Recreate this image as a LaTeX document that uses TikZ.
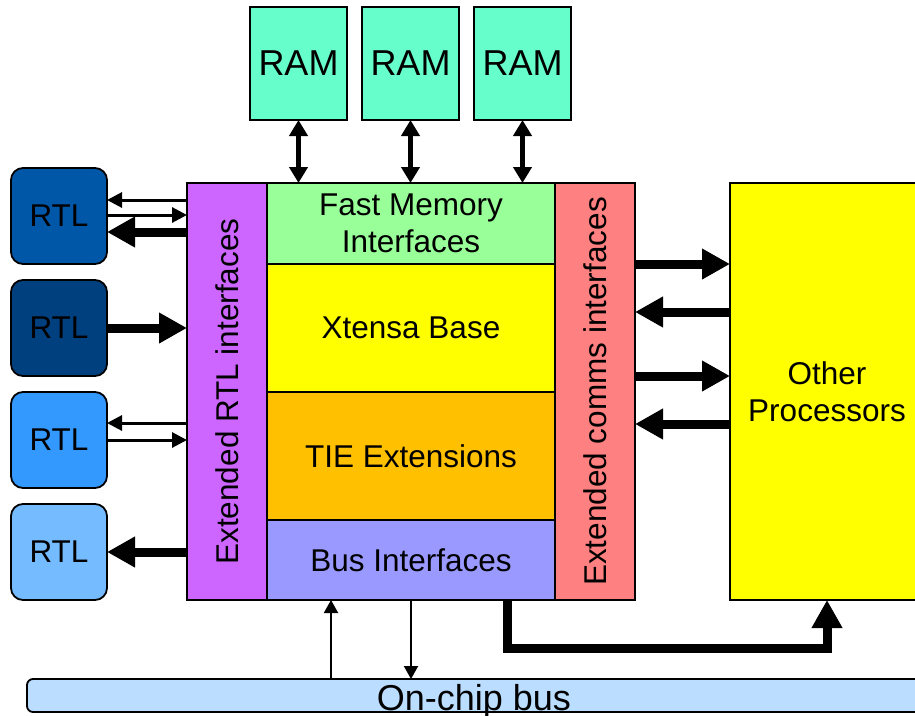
\documentclass[tikz,border=0pt]{standalone}
\usepackage{fontspec}
\setmainfont{Liberation Sans}
\usepackage{tikz}
\usetikzlibrary{arrows.meta}
\usetikzlibrary{positioning}

\definecolor{rtlA}{HTML}{0057A8}
\definecolor{rtlB}{HTML}{00407F}
\definecolor{rtlC}{HTML}{3399FF}
\definecolor{rtlD}{HTML}{75BBFF}
\definecolor{ramgreen}{HTML}{66FFCC}
\definecolor{extpurple}{HTML}{CC66FF}
\definecolor{memgreen}{HTML}{99FF99}
\definecolor{baseyellow}{HTML}{FFFF00}
\definecolor{tieorange}{HTML}{FFC000}
\definecolor{busblue}{HTML}{9999FF}
\definecolor{commsred}{HTML}{FF8080}
\definecolor{chipblue}{HTML}{BBDDFF}

\tikzset{
  blk/.style={draw=black, line width=1.8pt, inner sep=0pt, outer sep=0pt,
    align=center, font=\fontsize{31.5}{37}\selectfont},
  rtl/.style={blk, rounded corners=12pt, minimum width=96pt, minimum height=96pt},
  ram/.style={blk, fill=ramgreen, minimum width=97pt, minimum height=113pt,
    font=\fontsize{36}{40}\selectfont},
  thinarr/.style={line width=3pt, -{Triangle[length=15pt,width=15pt]}},
  fatarr/.style={line width=9pt, -{Triangle[length=28pt,width=29pt]}},
  ramarr/.style={line width=5pt, {Triangle[length=16pt,width=18pt]}-{Triangle[length=16pt,width=18pt]}},
  busarr/.style={line width=2pt, -{Triangle[length=13pt,width=14pt]}}
}

\begin{document}
\begin{tikzpicture}[x=1pt, y=-1pt]
\useasboundingbox (0,0) rectangle (915,715);

\node[rtl, fill=rtlA] (rtl1) at (59,216) {RTL};
\node[rtl, fill=rtlB] (rtl2) at (59,328) {RTL};
\node[rtl, fill=rtlC] (rtl3) at (59,440) {RTL};
\node[rtl, fill=rtlD] (rtl4) at (59,552) {RTL};

\node[blk, fill=extpurple, minimum width=80pt, minimum height=417pt] (extrtl) at (227,391.5)
    {\rotatebox{90}{Extended RTL interfaces}};

\node[blk, fill=memgreen, minimum width=288pt, minimum height=81pt] (fastmem) at (411,223.5)
    {Fast Memory\\Interfaces};
\node[blk, fill=baseyellow, minimum width=288pt, minimum height=128pt, below=0pt of fastmem] (xtensa) {Xtensa Base};
\node[blk, fill=tieorange, minimum width=288pt, minimum height=128pt, below=0pt of xtensa] (tie) {TIE Extensions};
\node[blk, fill=busblue, minimum width=288pt, minimum height=80pt, below=0pt of tie] (busif) {Bus Interfaces};

\node[blk, fill=commsred, minimum width=80pt, minimum height=417pt] (extcomms) at (595,391.5)
    {\rotatebox{90}{Extended comms interfaces}};

\node[blk, fill=baseyellow, minimum width=194pt, minimum height=417pt] (otherproc) at (827,391.5)
    {Other\\Processors};

\node[ram] (ram1) at (298.5,63.5) {RAM};
\node[ram, right=15pt of ram1] (ram2) {RAM};
\node[ram, right=15pt of ram2] (ram3) {RAM};

\node[draw=black, line width=1.8pt, fill=chipblue, rounded corners=6pt, inner sep=0pt, outer sep=0pt,
    minimum width=920pt, minimum height=33pt] (chipbus) at (487,695.5) {};
\node[anchor=base, inner sep=0pt, font=\fontsize{36}{40}\selectfont] (buslabel) at (474,710) {On-chip bus};

\draw[ramarr] (ram1.south) -- (ram1.south |- fastmem.north);
\draw[ramarr] (ram2.south) -- (ram2.south |- fastmem.north);
\draw[ramarr] (ram3.south) -- (ram3.south |- fastmem.north);

\draw[thinarr] ([yshift=16pt]extrtl.west |- rtl1.east) -- ([yshift=16pt]rtl1.east);
\draw[thinarr] ([yshift=1pt]rtl1.east) -- ([yshift=1pt]extrtl.west |- rtl1.east);
\draw[fatarr] ([yshift=-16pt]extrtl.west |- rtl1.east) -- ([yshift=-16pt]rtl1.east);
\draw[fatarr] (rtl2.east) -- (extrtl.west |- rtl2.east);
\draw[thinarr] ([yshift=17pt]extrtl.west |- rtl3.east) -- ([yshift=17pt]rtl3.east);
\draw[thinarr] (rtl3.east) -- (extrtl.west |- rtl3.east);
\draw[fatarr] (extrtl.west |- rtl4.east) -- (rtl4.east);

\draw[fatarr] ([yshift=127.5pt]extcomms.east) -- ([yshift=127.5pt]otherproc.west);
\draw[fatarr] ([yshift=79.5pt]otherproc.west) -- ([yshift=79.5pt]extcomms.east);
\draw[fatarr] ([yshift=15.5pt]extcomms.east) -- ([yshift=15.5pt]otherproc.west);
\draw[fatarr] ([yshift=-32.5pt]otherproc.west) -- ([yshift=-32.5pt]extcomms.east);

\draw[busarr] ([xshift=-80pt]busif.south |- chipbus.north) -- ([xshift=-80pt]busif.south);
\draw[busarr] (busif.south) -- (busif.south |- chipbus.north);
\draw[fatarr] ([xshift=96pt]busif.south) -- ++(0,48) -| (otherproc.south);

\end{tikzpicture}
\end{document}
